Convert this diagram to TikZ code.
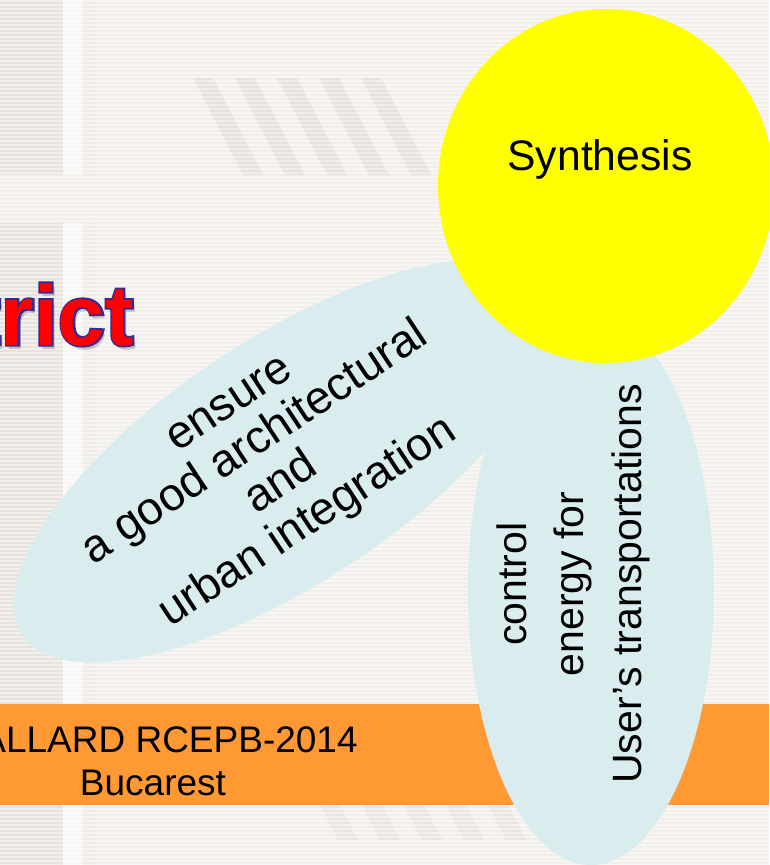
\documentclass[tikz,border=0pt]{standalone}
\usepackage{fontspec}
\setmainfont{Liberation Sans}
\usetikzlibrary{shapes.geometric}

\definecolor{bgbase}{RGB}{242,239,235}
\definecolor{bgpanel}{RGB}{232,226,221}
\definecolor{bgslash}{RGB}{231,224,219}
\definecolor{bglight}{RGB}{248,247,245}
\definecolor{petal}{RGB}{218,237,238}
\definecolor{sun}{RGB}{255,255,0}
\definecolor{bandorange}{RGB}{255,153,51}
\definecolor{titlered}{RGB}{255,0,0}
\definecolor{titleedge}{RGB}{52,44,150}

\tikzset{
  petalshape/.style={ellipse, fill=petal, draw=none, inner sep=0pt},
  sunshape/.style={ellipse, fill=sun, draw=none, inner sep=0pt},
  label/.style={inner sep=0pt, text=black},
  slash/.style={fill=bgslash},
  titletext/.style={inner sep=0pt, anchor=base east,
    font=\fontsize{64}{70}\selectfont\bfseries},
}

\begin{document}
\begin{tikzpicture}[x=0.75pt, y=-0.75pt]
  \useasboundingbox (0,0) rectangle (769,865);
  \clip (0,0) rectangle (769,865);

  % --- backdrop -------------------------------------------------------
  \fill[bgbase] (0,0) rectangle (769,865);
  \fill[bgpanel] (0,0) rectangle (63,175);
  \fill[bgpanel] (0,223) rectangle (63,865);
  \fill[bglight] (63,0) rectangle (83,175);
  \fill[bglight] (63,223) rectangle (83,865);
  \fill[bgbase!70!bgpanel] (83,0) rectangle (95,175);
  \fill[bgbase!70!bgpanel] (83,223) rectangle (95,865);
  % slanted bars
  \foreach \k in {0,...,4} {
    \fill[slash] (193+42*\k,78) -- (213+42*\k,78) -- (263+42*\k,175) -- (243+42*\k,175) -- cycle;
    \fill[slash, opacity=0.7] (320+42*\k,805) -- (340+42*\k,805) -- (358+42*\k,840) -- (338+42*\k,840) -- cycle;
  }
  % fine horizontal ruling
  \foreach \yy in {0,4,...,864} {
    \fill[white, opacity=0.45] (0,\yy) rectangle (769,\yy+2);
  }

  % --- footer band ------------------------------------------------------
  \fill[bandorange] (0,704) rectangle (769,805);
  \node[label, anchor=base east, font=\fontsize{27.75}{32}\selectfont] (credit) at (358,752) {ALLARD RCEPB-2014};
  \node[label, anchor=base, font=\fontsize{27.75}{32}\selectfont] (city) at (153,795) {Bucarest};

  % --- title fragment -----------------------------------------------------
  \node[titletext, text=black, opacity=0.18] (titleshadow) at (137,349) {trict};
  \node[titletext, text=titleedge, font=\fontsize{64}{70}\selectfont\bfseries\addfontfeatures{FakeBold=4}] (titleedge) at (134,345) {trict};
  \node[titletext, text=titlered] (title) at (134,345) {trict};

  % --- petals and core ---------------------------------------------------
  \node[petalshape, minimum width=472.5pt, minimum height=183pt, rotate=33.5] (petalA) at (285,461) {};
  \node[petalshape, minimum width=184.5pt, minimum height=412.5pt] (petalB) at (591,590) {};
  \node[sunshape, minimum width=252pt, minimum height=265.5pt] (core) at (606,186) {};

  \node[label, anchor=base, font=\fontsize{32}{38}\selectfont] (synth) at (600,170) {Synthesis};
  \node[label, align=center, rotate=33.5, font=\fontsize{34.5}{35.6}\selectfont] (integ) at (271,467)
    {ensure\\a good architectural\\and\\urban integration};
  \node[label, align=center, rotate=90, font=\fontsize{30.75}{43.1}\selectfont] (transp) at (573,584)
    {control\\energy for\\User’s transportations};
\end{tikzpicture}
\end{document}
